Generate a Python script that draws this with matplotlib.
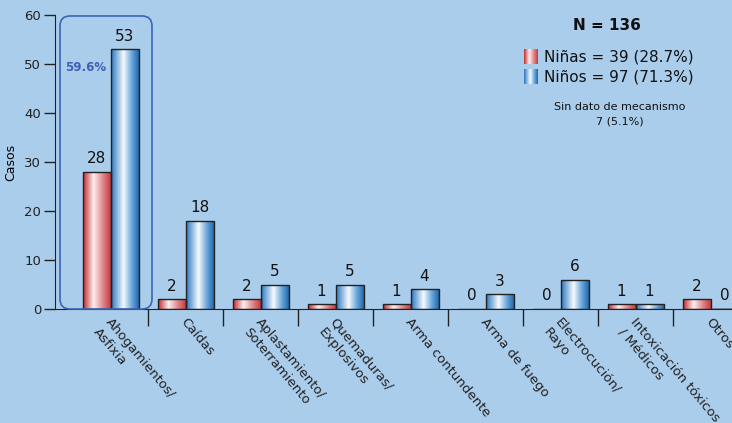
import numpy as np
import matplotlib
matplotlib.use("Agg")
import matplotlib.pyplot as plt
from matplotlib.colors import LinearSegmentedColormap
from matplotlib.patches import FancyBboxPatch
from matplotlib.transforms import ScaledTranslation

categories = ["Ahogamientos/\nAsfixia", "Caídas", "Aplastamiento/\nSoterramiento",
              "Quemaduras/\nExplosivos", "Arma contundente", "Arma de fuego",
              "Electrocución/\nRayo", "Intoxicación tóxicos\n/ Médicos", "Otros"]
ninas = [28, 2, 2, 1, 1, 0, 0, 1, 2]
ninos = [53, 18, 5, 5, 4, 3, 6, 1, 0]
yticks = [0, 10, 20, 30, 40, 50, 60]

BG = "#abcdec"
red_cmap = LinearSegmentedColormap.from_list("r", [(0, "#c4262b"), (0.38, "#fdf0f0"), (0.7, "#e08a8d"), (1, "#c8383d")])
blue_cmap = LinearSegmentedColormap.from_list("b", [(0, "#2a76bf"), (0.45, "#f5fafe"), (0.75, "#6aa6da"), (1, "#1c69b0")])

fig = plt.figure(figsize=(7.32, 4.23), dpi=100)
fig.patch.set_facecolor(BG)
ax = fig.add_axes([55/732, (423-309)/423, 1 - 55/732, (309-15)/423])
ax.set_facecolor(BG)

x = np.arange(len(categories))
w = 28/75
grad = np.linspace(0, 1, 256).reshape(1, -1)

def gradient_bars(bars, cmap):
    for b in bars:
        h = b.get_height()
        if h <= 0:
            continue
        x0 = b.get_x()
        im = ax.imshow(grad, cmap=cmap, aspect="auto", extent=(x0, x0 + b.get_width(), 0, h),
                       zorder=2, interpolation="bilinear")
        im.set_clip_path(b)

b1 = ax.bar(x - w/2, ninas, width=w, facecolor="none", edgecolor="#222222", linewidth=1, zorder=3)
b2 = ax.bar(x + w/2, ninos, width=w, facecolor="none", edgecolor="#222222", linewidth=1, zorder=3)
gradient_bars(b1, red_cmap)
gradient_bars(b2, blue_cmap)

for bars, vals in ((b1, ninas), (b2, ninos)):
    for b, v in zip(bars, vals):
        ax.annotate(str(v), (b.get_x() + b.get_width()/2, v), xytext=(0, 4),
                    textcoords="offset points", ha="center", va="bottom", fontsize=11, color="#111111")

ax.set_xlim((55-110.5)/75, (732-110.5)/75)
ax.set_ylim(0, 60)
ax.set_yticks(yticks)
ax.tick_params(axis="y", length=8, width=1, labelsize=9.5, pad=2, colors="#222222")
ax.set_xticks(x)
ax.set_xticklabels(categories, rotation=-50, ha="left", va="top", rotation_mode="anchor", fontsize=9.5, color="#222222")
ax.tick_params(axis="x", which="major", length=0, pad=5)
shift = ScaledTranslation(2/100, 0, fig.dpi_scale_trans)
for lab in ax.get_xticklabels():
    lab.set_transform(lab.get_transform() + shift)
ax.set_xticks(x[:-1] + 0.5, minor=True)
ax.tick_params(axis="x", which="minor", length=12, width=1, colors="#222222")
for s in ("top", "right"):
    ax.spines[s].set_visible(False)
for s in ("left", "bottom"):
    ax.spines[s].set_color("#222222")
ax.set_ylabel("Casos", fontsize=9, labelpad=5)

# highlight box
rx = 10/75
ry = 10/4.9
box = FancyBboxPatch(((60-110.5)/75, 0), (152-60)/75, 59.8,
                     boxstyle=f"round,pad=0,rounding_size={rx}", mutation_aspect=ry/rx,
                     facecolor="none", edgecolor="#3a66b5", linewidth=1.2, zorder=4, clip_on=False)
ax.add_patch(box)
ax.text((86-110.5)/75, 49.2, "59.6%", ha="center", va="center", fontsize=8.5,
        fontweight="bold", color="#3f5fb5")

# legend
fig.text(607/732, 1 - 25/423, "N = 136", ha="center", va="center", fontsize=11, fontweight="bold", color="#111111")
fig.text(544/732, 1 - 57/423, "Niñas = 39 (28.7%)", ha="left", va="center", fontsize=11, color="#111111")
fig.text(544/732, 1 - 77/423, "Niños = 97 (71.3%)", ha="left", va="center", fontsize=11, color="#111111")
for yc, cm in ((57, red_cmap), (77, blue_cmap)):
    sax = fig.add_axes([524/732, 1 - (yc + 7)/423, 14/732, 15/423])
    sax.imshow(grad, cmap=cm, aspect="auto", interpolation="bilinear")
    sax.axis("off")
fig.text(620/732, 1 - 107/423, "Sin dato de mecanismo", ha="center", va="center", fontsize=8, color="#111111")
fig.text(620/732, 1 - 122/423, "7 (5.1%)", ha="center", va="center", fontsize=8, color="#111111")

fig.savefig("out.png", dpi=100, facecolor=BG)
